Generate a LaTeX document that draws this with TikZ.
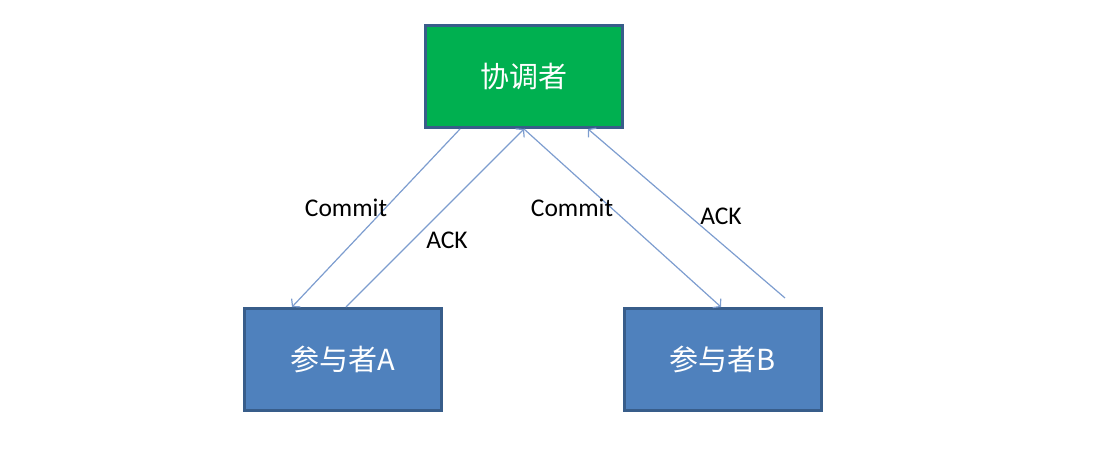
\documentclass[tikz,border=0pt]{standalone}
\usepackage{fontspec}
\setmainfont{Carlito}
\newfontfamily\cjk{Noto Sans CJK SC}
\usepackage{tikz}
\usetikzlibrary{arrows.meta}
\definecolor{boxedge}{RGB}{56,93,138}
\definecolor{greenbox}{RGB}{0,176,80}
\definecolor{bluebox}{RGB}{79,129,189}
\definecolor{msgline}{RGB}{125,157,207}

\begin{document}
\begin{tikzpicture}[x=1pt,y=1pt,
    role/.style={draw=boxedge, line width=3pt, minimum width=197pt, minimum height=102pt,
      text=white, font=\cjk\fontsize{29}{34}\selectfont},
    msg/.style={draw=msgline, line width=1.2pt, -{Straight Barb[length=5pt,width=12pt]}},
    msglabel/.style={font=\fontsize{25.5}{30}\selectfont}]
  \useasboundingbox (0,0) rectangle (1118,472);

  \node[role, fill=greenbox] (coord) at (524,395.5) {协调者};
  \node[role, fill=bluebox] (partA) at (343,112.5) {参与者A};
  \node[role, fill=bluebox] (partB) at (723,112.5) {参与者B};

  \draw[msg] ([xshift=36pt]coord.south west) -- ([xshift=49pt]partA.north west);
  \draw[msg] ([xshift=3pt]partA.north) -- (coord.south);
  \draw[msg] (coord.south) -- ([xshift=-2pt]partB.north);
  \draw[msg] ([xshift=-38pt,yshift=9pt]partB.north east) -- ([xshift=-36pt]coord.south east);

  \node[msglabel] (commitA) at (346,264) {Commit};
  \node[msglabel] (ackA) at (447,232) {ACK};
  \node[msglabel] (commitB) at (572,264) {Commit};
  \node[msglabel] (ackB) at (721,256) {ACK};
\end{tikzpicture}
\end{document}
